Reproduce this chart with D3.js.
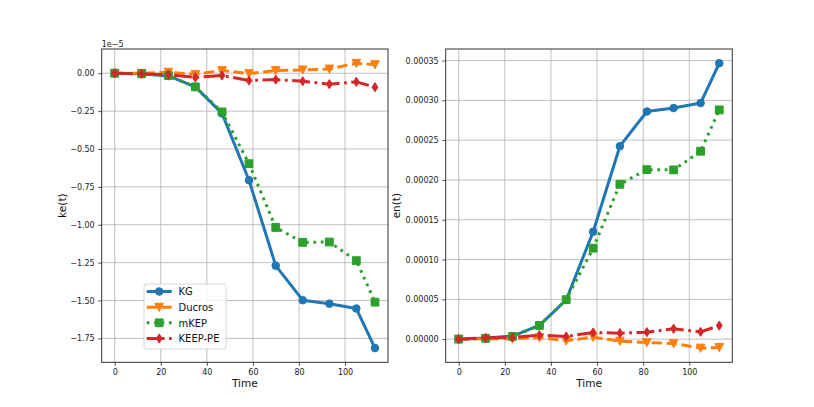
<!DOCTYPE html>
<html><head><meta charset="utf-8">
<script src="https://cdn.jsdelivr.net/npm/d3@7"></script>
<style>
html,body{margin:0;padding:0;background:#fff;}
svg{display:block;font-family:"DejaVu Sans",sans-serif;}
</style></head>
<body><svg id="chart" width="814" height="407"></svg>
<script>
// ---------- data ----------
const time = [0, 11.7, 23.3, 35.0, 46.6, 58.3, 69.9, 81.6, 93.2, 104.9, 113.0];
const seriesNames = ["KG", "Ducros", "mKEP", "KEEP-PE"];
// kinetic energy error ke(t), in units of 1e-5
const keKG     = [0, -0.004, -0.018, -0.09, -0.265, -0.706, -1.27, -1.498, -1.521, -1.553, -1.814];
const keDucros = [0, 0.0, 0.007, -0.007, 0.018, -0.002, 0.018, 0.022, 0.028, 0.066, 0.057];
const keMKEP   = [0, -0.003, -0.015, -0.09, -0.255, -0.597, -1.018, -1.116, -1.114, -1.237, -1.511];
const keKEEPPE = [0, -0.004, -0.009, -0.028, -0.015, -0.048, -0.042, -0.053, -0.072, -0.057, -0.092];
// entropy error en(t), in units of 1e-5
const enKG     = [0, 0.13, 0.38, 1.72, 4.92, 13.49, 24.24, 28.6, 29.03, 29.66, 34.66];
const enDucros = [0, 0.05, 0.05, 0.2, -0.2, 0.25, -0.25, -0.42, -0.55, -1.12, -1.05];
const enMKEP   = [0, 0.1, 0.34, 1.72, 4.96, 11.43, 19.45, 21.3, 21.26, 23.6, 28.8];
const enKEEPPE = [0, 0.17, 0.21, 0.5, 0.34, 0.84, 0.75, 0.88, 1.3, 0.92, 1.7];
const xTicks = [0, 20, 40, 60, 80, 100];
const keTicks = [0, -0.25, -0.5, -0.75, -1.0, -1.25, -1.5, -1.75];
const keTickLabels = ["0.00", "\u22120.25", "\u22120.50", "\u22120.75", "\u22121.00", "\u22121.25", "\u22121.50", "\u22121.75"];
const enTicks = [0, 5, 10, 15, 20, 25, 30, 35];
const enTickLabels = ["0.00000", "0.00005", "0.00010", "0.00015", "0.00020", "0.00025", "0.00030", "0.00035"];

// ---------- styles ----------
const colors = ["#1f77b4", "#ff7f0e", "#2ca02c", "#d62728"];
const dashes = [null, "10.4,4.5", "2.8,4.6", "17.9,4.5,2.8,4.5"];
const markers = ["circle", "tridown", "square", "thindiamond"];
const LW = 3;

const svg = d3.select("#chart");
const FONT = "DejaVu Sans";

function markerPath(type) {
  const p = d3.path();
  if (type === "circle") { p.arc(0, 0, 3.8, 0, 2 * Math.PI); }
  else if (type === "square") { p.rect(-3.9, -3.9, 7.8, 7.8); }
  else if (type === "tridown") { p.moveTo(-4.3, -3.9); p.lineTo(4.3, -3.9); p.lineTo(0, 4.3); p.closePath(); }
  else { p.moveTo(0, -4.6); p.lineTo(2.9, 0); p.lineTo(0, 4.6); p.lineTo(-2.9, 0); p.closePath(); }
  return p.toString();
}

function pad(ext) { const r = ext[1] - ext[0]; return [ext[0] - 0.05 * r, ext[1] + 0.05 * r]; }

function drawPanel(box, series, yTicks, yTickLabels, ylabel, offsetText) {
  const x = d3.scaleLinear().domain(pad(d3.extent(time))).range([box.x0, box.x1]);
  const all = series.flat();
  const y = d3.scaleLinear().domain(pad(d3.extent(all))).range([box.y1, box.y0]);
  const g = svg.append("g");

  // grid
  g.append("g").selectAll("line").data(xTicks).join("line")
    .attr("x1", d => x(d)).attr("x2", d => x(d)).attr("y1", box.y0).attr("y2", box.y1)
    .attr("stroke", "#b0b0b0").attr("stroke-width", 0.8);
  g.append("g").selectAll("line").data(yTicks).join("line")
    .attr("y1", d => y(d)).attr("y2", d => y(d)).attr("x1", box.x0).attr("x2", box.x1)
    .attr("stroke", "#b0b0b0").attr("stroke-width", 0.8);

  // axes
  const xAxis = d3.axisBottom(x).tickValues(xTicks).tickSize(3.5).tickPadding(3.5).tickFormat(d3.format("d"));
  const ya = d3.axisLeft(y).tickValues(yTicks).tickSize(3.5).tickPadding(3.5).tickFormat((d, i) => yTickLabels[i]);
  const gx = g.append("g").attr("transform", `translate(0,${box.y1})`).call(xAxis);
  const gy = g.append("g").attr("transform", `translate(${box.x0},0)`).call(ya);
  [gx, gy].forEach(a => {
    a.select(".domain").remove();
    a.selectAll(".tick line").attr("stroke", "#222").attr("stroke-width", 0.8);
    a.selectAll(".tick text").attr("fill", "#222").attr("font-size", 8).attr("font-family", FONT);
  });

  // lines + markers
  series.forEach((vals, i) => {
    const pts = vals.map((v, j) => [time[j], v]);
    const line = d3.line().x(d => x(d[0])).y(d => y(d[1]));
    g.append("path").attr("d", line(pts)).attr("fill", "none")
      .attr("stroke", colors[i]).attr("stroke-width", LW)
      .attr("stroke-linejoin", "round")
      .attr("stroke-linecap", dashes[i] ? "butt" : "butt")
      .attr("stroke-dasharray", dashes[i]);
    g.append("g").selectAll("path").data(pts).join("path")
      .attr("transform", d => `translate(${x(d[0])},${y(d[1])})`)
      .attr("d", markerPath(markers[i]))
      .attr("fill", colors[i]).attr("stroke", colors[i]).attr("stroke-width", 1);
  });

  // frame
  g.append("rect").attr("x", box.x0).attr("y", box.y0)
    .attr("width", box.x1 - box.x0).attr("height", box.y1 - box.y0)
    .attr("fill", "none").attr("stroke", "#333").attr("stroke-width", 1);

  // labels
  g.append("text").attr("x", (box.x0 + box.x1) / 2).attr("y", 386.5)
    .attr("text-anchor", "middle").attr("font-size", 10.5).attr("font-family", FONT).attr("fill", "#111").text("Time");
  g.append("text").attr("transform", `translate(${box.ylx},${(box.y0 + box.y1) / 2}) rotate(-90)`)
    .attr("text-anchor", "middle").attr("font-size", 10.5).attr("font-family", FONT).attr("fill", "#111").text(ylabel);
  if (offsetText) {
    g.append("text").attr("x", box.x0).attr("y", 46.5).attr("font-size", 8)
      .attr("font-family", FONT).attr("fill", "#222").text(offsetText);
  }
  return { x, y };
}

const left = { x0: 101.7, x1: 388, y0: 49, y1: 362.3, ylx: 66 };
const right = { x0: 445.7, x1: 732.3, y0: 49, y1: 362.3, ylx: 399.5 };
drawPanel(left, [keKG, keDucros, keMKEP, keKEEPPE], keTicks, keTickLabels, "ke(t)", "1e\u22125");
drawPanel(right, [enKG, enDucros, enMKEP, enKEEPPE], enTicks, enTickLabels, "en(t)", null);

// legend
const lg = svg.append("g");
lg.append("rect").attr("x", 144).attr("y", 284).attr("width", 82).attr("height", 65)
  .attr("rx", 2.5).attr("fill", "#fff").attr("fill-opacity", 0.8).attr("stroke", "#cccccc").attr("stroke-width", 0.8);
const legY = d3.scalePoint().domain(seriesNames).range([291.5, 338.5]);
seriesNames.forEach((name, i) => {
  const yy = legY(name);
  lg.append("line").attr("x1", 146.7).attr("x2", 171.7).attr("y1", yy).attr("y2", yy)
    .attr("stroke", colors[i]).attr("stroke-width", LW).attr("stroke-dasharray", dashes[i]);
  lg.append("path").attr("transform", `translate(159.2,${yy})`).attr("d", markerPath(markers[i]))
    .attr("fill", colors[i]).attr("stroke", colors[i]).attr("stroke-width", 1);
  lg.append("text").attr("x", 178.5).attr("y", yy + 3.7).attr("font-size", 10).attr("font-family", FONT)
    .attr("fill", "#111").text(name);
});
</script>
</body></html>
